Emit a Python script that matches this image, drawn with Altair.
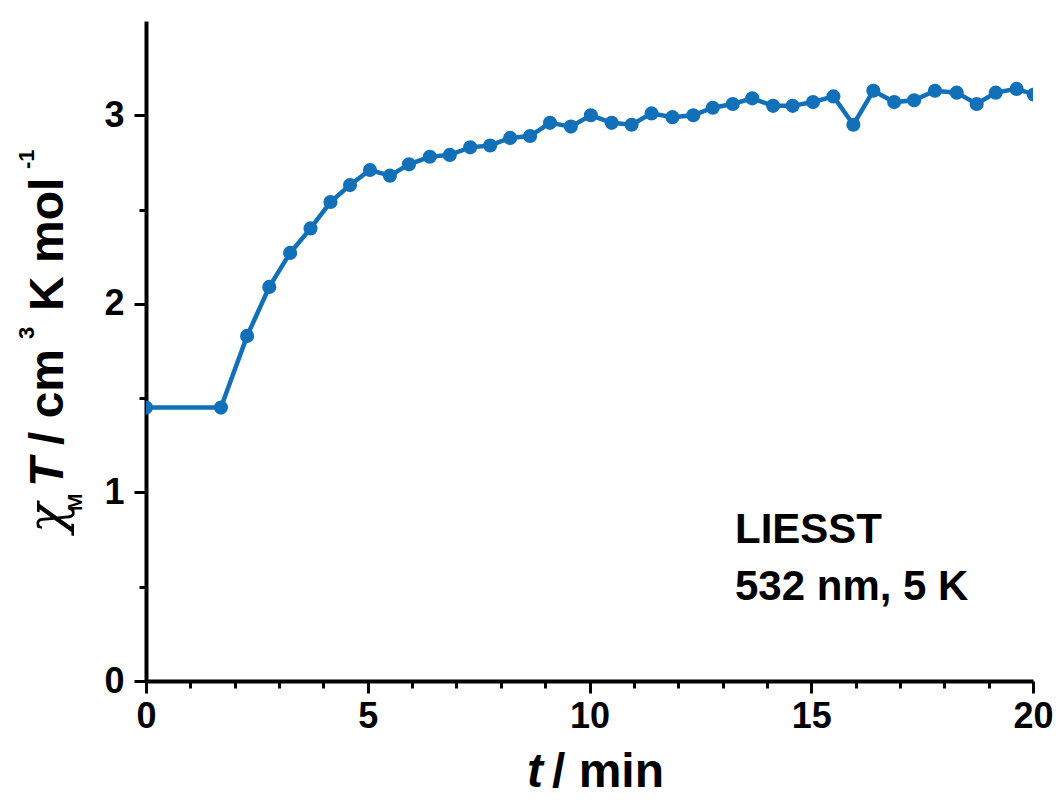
import altair as alt
import pandas as pd

# ---- data ----
time_min = [0, 1.69, 2.28, 2.78, 3.25, 3.71, 4.16, 4.60, 5.05, 5.50, 5.93, 6.40,
            6.85, 7.31, 7.76, 8.21, 8.66, 9.11, 9.58, 10.03, 10.50, 10.95, 11.40,
            11.87, 12.34, 12.78, 13.23, 13.67, 14.14, 14.58, 15.04, 15.50, 15.95,
            16.40, 16.87, 17.32, 17.79, 18.28, 18.73, 19.16, 19.63, 20.02]
chi_t = [1.45, 1.45, 1.83, 2.09, 2.27, 2.40, 2.54, 2.63, 2.71, 2.68, 2.74, 2.78,
         2.79, 2.83, 2.84, 2.88, 2.89, 2.96, 2.94, 3.00, 2.96, 2.95, 3.01,
         2.99, 3.00, 3.04, 3.06, 3.09, 3.05, 3.05, 3.07, 3.10, 2.95,
         3.13, 3.07, 3.08, 3.13, 3.12, 3.06, 3.12, 3.14, 3.11]

x_tick_values = list(range(0, 21))
y_tick_values = [0, 0.5, 1, 1.5, 2, 2.5, 3]
x_domain = [0, 20]
y_domain = [0, 3.5]

annotation_lines = ["LIESST", "532 nm, 5 K"]
y_title_parts = ["χ", "M", "T", "/ cm", "3", "K mol", "-1"]
x_title_parts = ["t", "/ min"]

BLUE = "#1270B8"
FONT = "Liberation Sans"

df = pd.DataFrame({"t": time_min, "chiT": chi_t})
one = pd.DataFrame({"k": [0]})

x_enc = alt.X(
    "t:Q",
    scale=alt.Scale(domain=x_domain, nice=False, zero=False),
    axis=alt.Axis(
        title=None,
        values=x_tick_values,
        format="d",
        labelExpr="datum.value % 5 === 0 ? datum.label : ''",
        tickSize={"condition": {"test": "datum.value % 5 !== 0", "value": 7}, "value": 12},
        grid=False,
        domainColor="black", domainWidth=4,
        tickColor="black", tickWidth=3,
        labelFont=FONT, labelFontSize=36, labelFontWeight="bold", labelColor="black",
        labelPadding=6, labelFlush=False, labelOverlap=False,
    ),
)
y_enc = alt.Y(
    "chiT:Q",
    scale=alt.Scale(domain=y_domain, nice=False),
    axis=alt.Axis(
        title=None,
        values=y_tick_values,
        format="~g",
        labelExpr="datum.value % 1 === 0 ? datum.label : ''",
        tickSize={"condition": {"test": "datum.value % 1 !== 0", "value": 7}, "value": 12},
        grid=False,
        domainColor="black", domainWidth=4,
        tickColor="black", tickWidth=3,
        labelFont=FONT, labelFontSize=36, labelFontWeight="bold", labelColor="black",
        labelPadding=10, labelFlush=False, labelOverlap=False,
    ),
)

base = alt.Chart(df)
line = base.mark_line(color=BLUE, strokeWidth=4.5, clip=True).encode(x=x_enc, y=y_enc)
pts = base.mark_circle(color=BLUE, size=200, opacity=1, clip=True).encode(x="t:Q", y="chiT:Q")


def txt(text, x, y, size, weight="bold", style="normal", angle=0, font=FONT, baseline="alphabetic"):
    return alt.Chart(one).mark_text(
        text=text, font=font, fontSize=size, fontWeight=weight, fontStyle=style,
        angle=angle, align="left", baseline=baseline, color="black",
    ).encode(x=alt.value(x), y=alt.value(y))


anno = alt.Chart(one).mark_text(
    text=annotation_lines, font=FONT, fontSize=42, fontWeight="bold",
    align="left", baseline="alphabetic", lineHeight=57, color="black",
).encode(x=alt.value(589), y=alt.value(522))

# y-axis title pieces (rotated)
yt = [
    txt(y_title_parts[0], -83, 512, 50, weight="normal", style="italic", angle=270, font="DejaVu Serif"),
    txt(y_title_parts[1], -64, 490, 21, angle=270),
    txt(y_title_parts[2], -83, 466, 48, style="italic", angle=270),
    txt(y_title_parts[3], -83, 424, 48, angle=270),
    txt(y_title_parts[4], -112, 318, 22, angle=270),
    txt(y_title_parts[5], -83, 290, 48, angle=270),
    txt(y_title_parts[6], -112, 148, 22, angle=270),
]
# x-axis title pieces
xt = [
    txt(x_title_parts[0], 381, 766, 48, style="italic"),
    txt(x_title_parts[1], 406, 766, 48),
]

chart = alt.layer(line, pts, anno, *yt, *xt).properties(
    width=887,
    height=660,
    padding={"left": 146, "top": 21, "right": 26, "bottom": 119},
    autosize=alt.AutoSizeParams(type="none"),
    background="white",
).configure_view(stroke=None)

chart.save("out.html", embed_options={"renderer": "svg", "actions": False})
